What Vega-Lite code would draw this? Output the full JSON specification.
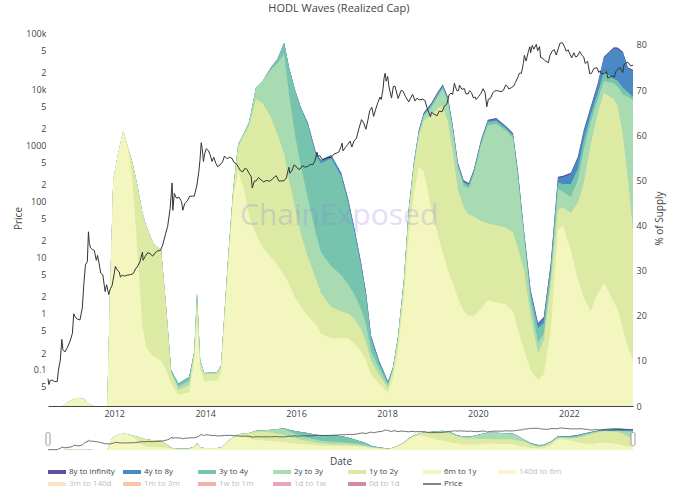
{
  "$schema": "https://vega.github.io/schema/vega-lite/v6.json",
  "background": "white",
  "padding": {"left": 13, "top": 3, "right": 5, "bottom": 0},
  "config": {
    "font": "Open Sans",
    "view": {"stroke": null},
    "axis": {"grid": false, "ticks": false, "labelColor": "#444", "titleColor": "#444", "titleFontWeight": "normal", "labelFontSize": 9, "titleFontSize": 10, "titleFont": "Open Sans", "labelFont": "Open Sans"}
  },
  "title": {"text": "HODL Waves (Realized Cap)", "fontSize": 11, "fontWeight": "normal", "color": "#444", "offset": 15, "anchor": "middle", "font": "Open Sans"},
  "datasets": {
    "waves": [
      {"d": "2010-07-18", "a": 0, "b": 0, "c": 0, "e": 0, "f": 0, "g": 0},
      {"d": "2010-11-16", "a": 0, "b": 0, "c": 0, "e": 0, "f": 0, "g": 0},
      {"d": "2011-01-03", "a": 1, "b": 1, "c": 1, "e": 1, "f": 1, "g": 1},
      {"d": "2011-02-28", "a": 1.8, "b": 1.8, "c": 1.8, "e": 1.8, "f": 1.8, "g": 1.8},
      {"d": "2011-04-27", "a": 1.6, "b": 1.6, "c": 1.6, "e": 1.6, "f": 1.6, "g": 1.6},
      {"d": "2011-06-13", "a": 0.5, "b": 0.5, "c": 0.5, "e": 0.5, "f": 0.5, "g": 0.5},
      {"d": "2011-07-16", "a": 0, "b": 0, "c": 0, "e": 0, "f": 0, "g": 0},
      {"d": "2011-11-06", "a": 0, "b": 0, "c": 0, "e": 0, "f": 0, "g": 0},
      {"d": "2011-11-28", "a": 25, "b": 25, "c": 25, "e": 25, "f": 25, "g": 25},
      {"d": "2011-12-24", "a": 50, "b": 50, "c": 50, "e": 50, "f": 50, "g": 50},
      {"d": "2012-02-02", "a": 56, "b": 56, "c": 56, "e": 56, "f": 56, "g": 56},
      {"d": "2012-03-14", "a": 61, "b": 61, "c": 61, "e": 61, "f": 61, "g": 61},
      {"d": "2012-04-23", "a": 57, "b": 57, "c": 57, "e": 57, "f": 57, "g": 57},
      {"d": "2012-05-26", "a": 50, "b": 54, "c": 54, "e": 54, "f": 54, "g": 54},
      {"d": "2012-07-04", "a": 35, "b": 49, "c": 49, "e": 49, "f": 49, "g": 49},
      {"d": "2012-08-13", "a": 18, "b": 43, "c": 43, "e": 43, "f": 43, "g": 43},
      {"d": "2012-09-13", "a": 13, "b": 40, "c": 40, "e": 40, "f": 40, "g": 40},
      {"d": "2012-11-10", "a": 11, "b": 36, "c": 36, "e": 36, "f": 36, "g": 36},
      {"d": "2013-01-12", "a": 10, "b": 34.5, "c": 34.5, "e": 34.5, "f": 34.5, "g": 34.5},
      {"d": "2013-02-21", "a": 8, "b": 22, "c": 22, "e": 22, "f": 22, "g": 22},
      {"d": "2013-04-02", "a": 5, "b": 7.3, "c": 7.7, "e": 8, "f": 8, "g": 8},
      {"d": "2013-05-30", "a": 2.5, "b": 3.6, "c": 4.3, "e": 5, "f": 5, "g": 5},
      {"d": "2013-08-25", "a": 3, "b": 4.6, "c": 5.6, "e": 6.4, "f": 6.4, "g": 6.4},
      {"d": "2013-10-05", "a": 10, "b": 11.5, "c": 12, "e": 12, "f": 12, "g": 12},
      {"d": "2013-10-27", "a": 19, "b": 24, "c": 25, "e": 25, "f": 25, "g": 25},
      {"d": "2013-11-22", "a": 8, "b": 9.6, "c": 10, "e": 10, "f": 10, "g": 10},
      {"d": "2013-12-24", "a": 5.5, "b": 7, "c": 7.3, "e": 7.3, "f": 7.3, "g": 7.3},
      {"d": "2014-04-06", "a": 5.7, "b": 7.2, "c": 7.5, "e": 7.5, "f": 7.5, "g": 7.5},
      {"d": "2014-05-08", "a": 7, "b": 8.6, "c": 9, "e": 9, "f": 9, "g": 9},
      {"d": "2014-07-02", "a": 30, "b": 31.5, "c": 32, "e": 32, "f": 32, "g": 32},
      {"d": "2014-08-14", "a": 46, "b": 47.5, "c": 48, "e": 48, "f": 48, "g": 48},
      {"d": "2014-09-23", "a": 52, "b": 57.5, "c": 58, "e": 58, "f": 58, "g": 58},
      {"d": "2014-11-09", "a": 48, "b": 60, "c": 60.5, "e": 60.5, "f": 60.5, "g": 60.5},
      {"d": "2014-12-20", "a": 42, "b": 62, "c": 63, "e": 63, "f": 63, "g": 63},
      {"d": "2015-02-13", "a": 38, "b": 68, "c": 70.5, "e": 70.5, "f": 70.5, "g": 70.5},
      {"d": "2015-04-09", "a": 35, "b": 67, "c": 72, "e": 72, "f": 72, "g": 72},
      {"d": "2015-06-13", "a": 33, "b": 64, "c": 74.5, "e": 75, "f": 75, "g": 75},
      {"d": "2015-08-07", "a": 31, "b": 60, "c": 76, "e": 77, "f": 77, "g": 77},
      {"d": "2015-09-27", "a": 29, "b": 56, "c": 78, "e": 80.5, "f": 80.5, "g": 80.5},
      {"d": "2015-11-06", "a": 27, "b": 50, "c": 69, "e": 75, "f": 75, "g": 75},
      {"d": "2015-12-24", "a": 24, "b": 44, "c": 60, "e": 70, "f": 70, "g": 70},
      {"d": "2016-02-10", "a": 22, "b": 38, "c": 53, "e": 65.8, "f": 66, "g": 66},
      {"d": "2016-04-05", "a": 20, "b": 33, "c": 46, "e": 62.3, "f": 62.7, "g": 62.7},
      {"d": "2016-06-10", "a": 18, "b": 28, "c": 38, "e": 55.4, "f": 56, "g": 56},
      {"d": "2016-07-20", "a": 16, "b": 25, "c": 34, "e": 53.8, "f": 54.5, "g": 54.5},
      {"d": "2016-10-08", "a": 15, "b": 22, "c": 31, "e": 54.9, "f": 55.6, "g": 55.6},
      {"d": "2016-12-28", "a": 15, "b": 21, "c": 29, "e": 51, "f": 51.7, "g": 51.7},
      {"d": "2017-02-21", "a": 15, "b": 20.5, "c": 27, "e": 45.2, "f": 46, "g": 46},
      {"d": "2017-04-09", "a": 14, "b": 19.5, "c": 25, "e": 39.2, "f": 40, "g": 40},
      {"d": "2017-06-07", "a": 12, "b": 17, "c": 21.5, "e": 30.9, "f": 31.7, "g": 31.7},
      {"d": "2017-07-17", "a": 10, "b": 14, "c": 18, "e": 24.3, "f": 25, "g": 25},
      {"d": "2017-08-26", "a": 7, "b": 10, "c": 12, "e": 14.9, "f": 15.5, "g": 15.5},
      {"d": "2017-10-27", "a": 5, "b": 7, "c": 8.5, "e": 9.7, "f": 10.2, "g": 10.2},
      {"d": "2018-01-08", "a": 3, "b": 4, "c": 4.6, "e": 5.2, "f": 5.4, "g": 5.5},
      {"d": "2018-02-17", "a": 6, "b": 7.8, "c": 8.2, "e": 8.4, "f": 8.5, "g": 8.6},
      {"d": "2018-03-29", "a": 12, "b": 14.4, "c": 14.9, "e": 15.1, "f": 15.2, "g": 15.3},
      {"d": "2018-05-16", "a": 24, "b": 26.8, "c": 27.5, "e": 27.8, "f": 27.9, "g": 28},
      {"d": "2018-06-25", "a": 38, "b": 42.8, "c": 43.5, "e": 43.7, "f": 43.9, "g": 44},
      {"d": "2018-08-04", "a": 47, "b": 52.8, "c": 53.4, "e": 53.7, "f": 53.9, "g": 54},
      {"d": "2018-09-13", "a": 53, "b": 59.6, "c": 60.5, "e": 60.8, "f": 61, "g": 61.2},
      {"d": "2018-10-23", "a": 52, "b": 63.2, "c": 64.2, "e": 64.6, "f": 64.8, "g": 65},
      {"d": "2018-12-20", "a": 44, "b": 64.5, "c": 66, "e": 66.5, "f": 66.8, "g": 67},
      {"d": "2019-02-13", "a": 38, "b": 66, "c": 68.5, "e": 69.1, "f": 69.4, "g": 69.6},
      {"d": "2019-03-25", "a": 34, "b": 66.5, "c": 70.2, "e": 70.7, "f": 71, "g": 71.2},
      {"d": "2019-05-05", "a": 30, "b": 63, "c": 67.3, "e": 68, "f": 68.3, "g": 68.5},
      {"d": "2019-06-14", "a": 27, "b": 56, "c": 60.8, "e": 61.5, "f": 61.8, "g": 62},
      {"d": "2019-07-24", "a": 24, "b": 48, "c": 52.8, "e": 53.5, "f": 53.8, "g": 54},
      {"d": "2019-09-09", "a": 21, "b": 44, "c": 48.8, "e": 49.5, "f": 49.8, "g": 50},
      {"d": "2019-10-19", "a": 20, "b": 42.5, "c": 48.2, "e": 48.9, "f": 49.2, "g": 49.4},
      {"d": "2019-11-28", "a": 20, "b": 42, "c": 51.1, "e": 51.8, "f": 52.1, "g": 52.3},
      {"d": "2020-01-26", "a": 21.5, "b": 41, "c": 57.8, "e": 58.5, "f": 58.8, "g": 59},
      {"d": "2020-03-21", "a": 23.5, "b": 40.5, "c": 62.2, "e": 62.9, "f": 63.2, "g": 63.4},
      {"d": "2020-05-27", "a": 23, "b": 40, "c": 62.5, "e": 63.2, "f": 63.6, "g": 63.8},
      {"d": "2020-08-15", "a": 22.5, "b": 39.5, "c": 61, "e": 61.5, "f": 61.8, "g": 62},
      {"d": "2020-10-09", "a": 21, "b": 38.5, "c": 59.3, "e": 59.9, "f": 60.2, "g": 60.5},
      {"d": "2020-11-18", "a": 17, "b": 35, "c": 50.5, "e": 51.3, "f": 51.7, "g": 52},
      {"d": "2021-01-05", "a": 12.4, "b": 30, "c": 37.5, "e": 38.3, "f": 38.7, "g": 39},
      {"d": "2021-02-28", "a": 8, "b": 20, "c": 23, "e": 24.8, "f": 25.4, "g": 25.7},
      {"d": "2021-04-28", "a": 5.8, "b": 11.7, "c": 14, "e": 17.2, "f": 18.1, "g": 18.4},
      {"d": "2021-06-13", "a": 7, "b": 14.5, "c": 16, "e": 18.4, "f": 19.4, "g": 19.7},
      {"d": "2021-08-08", "a": 16.8, "b": 27, "c": 28.5, "e": 30.3, "f": 31.4, "g": 31.7},
      {"d": "2021-10-05", "a": 39, "b": 43.5, "c": 48, "e": 49.5, "f": 50.5, "g": 50.8},
      {"d": "2021-11-14", "a": 40, "b": 44, "c": 47.5, "e": 49.2, "f": 50.7, "g": 51},
      {"d": "2022-01-16", "a": 34.6, "b": 42.8, "c": 46.3, "e": 49.2, "f": 51.4, "g": 51.7},
      {"d": "2022-03-14", "a": 28, "b": 45, "c": 50, "e": 52.5, "f": 54.9, "g": 55.2},
      {"d": "2022-05-01", "a": 24, "b": 49.4, "c": 56.8, "e": 59, "f": 60.9, "g": 61.2},
      {"d": "2022-06-25", "a": 21, "b": 58, "c": 63, "e": 64.5, "f": 66, "g": 66.3},
      {"d": "2022-08-22", "a": 25, "b": 65, "c": 68, "e": 69.5, "f": 71.3, "g": 71.6},
      {"d": "2022-10-09", "a": 27.3, "b": 69.4, "c": 72, "e": 74, "f": 77.1, "g": 77.4},
      {"d": "2022-12-28", "a": 23, "b": 68, "c": 71.5, "e": 72.5, "f": 79.2, "g": 79.5},
      {"d": "2023-01-29", "a": 21.3, "b": 66.3, "c": 70.7, "e": 72, "f": 79.1, "g": 79.4},
      {"d": "2023-03-11", "a": 17, "b": 60, "c": 69, "e": 70.5, "f": 78.2, "g": 78.5},
      {"d": "2023-04-21", "a": 13, "b": 50, "c": 68.5, "e": 69.5, "f": 74.7, "g": 75},
      {"d": "2023-05-31", "a": 10.2, "b": 39, "c": 67.8, "e": 68.5, "f": 74.2, "g": 74.5}
    ],
    "price": [
      {"d": "2010-07-18", "p": 0.07}, {"d": "2010-07-25", "p": 0.055}, {"d": "2010-08-05", "p": 0.065}, {"d": "2010-08-20", "p": 0.066},
      {"d": "2010-09-10", "p": 0.062}, {"d": "2010-09-30", "p": 0.062}, {"d": "2010-10-10", "p": 0.1}, {"d": "2010-10-25", "p": 0.15},
      {"d": "2010-11-06", "p": 0.35}, {"d": "2010-11-15", "p": 0.23}, {"d": "2010-12-01", "p": 0.21}, {"d": "2010-12-20", "p": 0.25},
      {"d": "2011-01-10", "p": 0.32}, {"d": "2011-01-30", "p": 0.45}, {"d": "2011-02-10", "p": 1.0}, {"d": "2011-02-25", "p": 0.85},
      {"d": "2011-03-15", "p": 0.8}, {"d": "2011-04-01", "p": 0.78}, {"d": "2011-04-20", "p": 1.3}, {"d": "2011-05-01", "p": 3.2},
      {"d": "2011-05-15", "p": 7.5}, {"d": "2011-05-30", "p": 8.5}, {"d": "2011-06-08", "p": 29}, {"d": "2011-06-15", "p": 18},
      {"d": "2011-06-25", "p": 15}, {"d": "2011-07-10", "p": 14}, {"d": "2011-07-25", "p": 13.5}, {"d": "2011-08-10", "p": 9},
      {"d": "2011-08-20", "p": 11}, {"d": "2011-09-01", "p": 8}, {"d": "2011-09-15", "p": 5.3}, {"d": "2011-10-01", "p": 5},
      {"d": "2011-10-20", "p": 2.5}, {"d": "2011-11-01", "p": 3.3}, {"d": "2011-11-18", "p": 2.2}, {"d": "2011-12-01", "p": 2.8},
      {"d": "2011-12-15", "p": 3.2}, {"d": "2012-01-01", "p": 5.2}, {"d": "2012-01-10", "p": 7}, {"d": "2012-01-25", "p": 6},
      {"d": "2012-02-10", "p": 5.6}, {"d": "2012-02-20", "p": 4.5}, {"d": "2012-03-05", "p": 4.9}, {"d": "2012-03-25", "p": 4.7},
      {"d": "2012-04-15", "p": 4.9}, {"d": "2012-05-10", "p": 5.0}, {"d": "2012-06-01", "p": 5.2}, {"d": "2012-06-20", "p": 6.3},
      {"d": "2012-07-10", "p": 7.2}, {"d": "2012-07-25", "p": 8.5}, {"d": "2012-08-15", "p": 12.5}, {"d": "2012-08-20", "p": 9},
      {"d": "2012-09-05", "p": 10.5}, {"d": "2012-09-25", "p": 12.3}, {"d": "2012-10-15", "p": 11.8}, {"d": "2012-11-05", "p": 10.7},
      {"d": "2012-11-25", "p": 12.2}, {"d": "2012-12-15", "p": 13.3}, {"d": "2013-01-05", "p": 13.4}, {"d": "2013-01-25", "p": 17},
      {"d": "2013-02-15", "p": 26}, {"d": "2013-03-05", "p": 36}, {"d": "2013-03-25", "p": 75}, {"d": "2013-04-10", "p": 215},
      {"d": "2013-04-16", "p": 70}, {"d": "2013-04-28", "p": 140}, {"d": "2013-05-15", "p": 115}, {"d": "2013-06-05", "p": 120},
      {"d": "2013-06-25", "p": 100}, {"d": "2013-07-05", "p": 70}, {"d": "2013-07-20", "p": 92}, {"d": "2013-08-10", "p": 103},
      {"d": "2013-08-30", "p": 125}, {"d": "2013-09-20", "p": 125}, {"d": "2013-10-05", "p": 125}, {"d": "2013-10-25", "p": 190},
      {"d": "2013-11-10", "p": 330}, {"d": "2013-11-20", "p": 550}, {"d": "2013-11-30", "p": 1120}, {"d": "2013-12-08", "p": 880},
      {"d": "2013-12-18", "p": 520}, {"d": "2013-12-28", "p": 720}, {"d": "2014-01-10", "p": 880}, {"d": "2014-01-28", "p": 800},
      {"d": "2014-02-10", "p": 680}, {"d": "2014-02-25", "p": 520}, {"d": "2014-03-10", "p": 620}, {"d": "2014-03-28", "p": 480},
      {"d": "2014-04-10", "p": 420}, {"d": "2014-04-30", "p": 450}, {"d": "2014-05-20", "p": 510}, {"d": "2014-06-05", "p": 650},
      {"d": "2014-06-25", "p": 580}, {"d": "2014-07-15", "p": 620}, {"d": "2014-08-05", "p": 590}, {"d": "2014-08-20", "p": 500},
      {"d": "2014-09-10", "p": 470}, {"d": "2014-09-25", "p": 410}, {"d": "2014-10-10", "p": 360}, {"d": "2014-10-30", "p": 340},
      {"d": "2014-11-15", "p": 390}, {"d": "2014-12-01", "p": 380}, {"d": "2014-12-20", "p": 320}, {"d": "2015-01-05", "p": 280},
      {"d": "2015-01-14", "p": 175}, {"d": "2015-01-30", "p": 230}, {"d": "2015-02-15", "p": 235}, {"d": "2015-03-05", "p": 270},
      {"d": "2015-03-25", "p": 245}, {"d": "2015-04-15", "p": 225}, {"d": "2015-05-10", "p": 240}, {"d": "2015-05-30", "p": 230},
      {"d": "2015-06-20", "p": 245}, {"d": "2015-07-10", "p": 275}, {"d": "2015-07-25", "p": 290}, {"d": "2015-08-18", "p": 230},
      {"d": "2015-09-05", "p": 235}, {"d": "2015-09-25", "p": 235}, {"d": "2015-10-15", "p": 265}, {"d": "2015-11-04", "p": 410},
      {"d": "2015-11-12", "p": 320}, {"d": "2015-11-28", "p": 355}, {"d": "2015-12-15", "p": 450}, {"d": "2015-12-30", "p": 430},
      {"d": "2016-01-15", "p": 385}, {"d": "2016-02-01", "p": 375}, {"d": "2016-02-20", "p": 440}, {"d": "2016-03-10", "p": 415},
      {"d": "2016-04-01", "p": 420}, {"d": "2016-04-25", "p": 460}, {"d": "2016-05-15", "p": 455}, {"d": "2016-06-01", "p": 535},
      {"d": "2016-06-17", "p": 760}, {"d": "2016-06-25", "p": 640}, {"d": "2016-07-10", "p": 660}, {"d": "2016-08-01", "p": 560},
      {"d": "2016-08-20", "p": 580}, {"d": "2016-09-15", "p": 610}, {"d": "2016-10-10", "p": 615}, {"d": "2016-10-30", "p": 700},
      {"d": "2016-11-20", "p": 730}, {"d": "2016-12-10", "p": 770}, {"d": "2016-12-28", "p": 960}, {"d": "2017-01-05", "p": 1100},
      {"d": "2017-01-12", "p": 800}, {"d": "2017-01-30", "p": 920}, {"d": "2017-02-20", "p": 1050}, {"d": "2017-03-10", "p": 1200},
      {"d": "2017-03-24", "p": 940}, {"d": "2017-04-10", "p": 1200}, {"d": "2017-04-30", "p": 1350}, {"d": "2017-05-20", "p": 2000},
      {"d": "2017-06-10", "p": 2900}, {"d": "2017-06-28", "p": 2500}, {"d": "2017-07-15", "p": 1950}, {"d": "2017-07-30", "p": 2750},
      {"d": "2017-08-15", "p": 4200}, {"d": "2017-09-01", "p": 4800}, {"d": "2017-09-15", "p": 3300}, {"d": "2017-09-30", "p": 4300},
      {"d": "2017-10-20", "p": 5900}, {"d": "2017-11-05", "p": 7300}, {"d": "2017-11-15", "p": 6600}, {"d": "2017-11-29", "p": 9900},
      {"d": "2017-12-08", "p": 16000}, {"d": "2017-12-17", "p": 19400}, {"d": "2017-12-25", "p": 14000}, {"d": "2018-01-06", "p": 17000},
      {"d": "2018-01-17", "p": 11000}, {"d": "2018-02-06", "p": 7000}, {"d": "2018-02-20", "p": 11200}, {"d": "2018-03-05", "p": 11500},
      {"d": "2018-03-31", "p": 6900}, {"d": "2018-04-24", "p": 9600}, {"d": "2018-05-10", "p": 9300}, {"d": "2018-05-30", "p": 7400},
      {"d": "2018-06-24", "p": 6000}, {"d": "2018-07-25", "p": 8200}, {"d": "2018-08-14", "p": 6200}, {"d": "2018-08-30", "p": 7000},
      {"d": "2018-09-15", "p": 6500}, {"d": "2018-10-15", "p": 6700}, {"d": "2018-11-01", "p": 6350}, {"d": "2018-11-20", "p": 4600},
      {"d": "2018-12-15", "p": 3250}, {"d": "2018-12-25", "p": 3900}, {"d": "2019-01-15", "p": 3600}, {"d": "2019-02-07", "p": 3400},
      {"d": "2019-02-24", "p": 4100}, {"d": "2019-03-20", "p": 4000}, {"d": "2019-04-05", "p": 5000}, {"d": "2019-04-25", "p": 5400},
      {"d": "2019-05-15", "p": 8000}, {"d": "2019-05-30", "p": 8600}, {"d": "2019-06-12", "p": 8100}, {"d": "2019-06-26", "p": 12900},
      {"d": "2019-07-05", "p": 11000}, {"d": "2019-07-16", "p": 9500}, {"d": "2019-07-30", "p": 9500}, {"d": "2019-08-06", "p": 11900},
      {"d": "2019-08-25", "p": 10100}, {"d": "2019-09-15", "p": 10300}, {"d": "2019-09-25", "p": 8400}, {"d": "2019-10-15", "p": 8300},
      {"d": "2019-10-26", "p": 9500}, {"d": "2019-11-10", "p": 8800}, {"d": "2019-11-25", "p": 7100}, {"d": "2019-12-10", "p": 7300},
      {"d": "2019-12-18", "p": 6600}, {"d": "2020-01-05", "p": 7400}, {"d": "2020-01-25", "p": 8500}, {"d": "2020-02-12", "p": 10300},
      {"d": "2020-02-28", "p": 8700}, {"d": "2020-03-12", "p": 4900}, {"d": "2020-03-25", "p": 6700}, {"d": "2020-04-10", "p": 6900},
      {"d": "2020-04-30", "p": 8700}, {"d": "2020-05-15", "p": 9400}, {"d": "2020-05-31", "p": 9500}, {"d": "2020-06-15", "p": 9400},
      {"d": "2020-07-05", "p": 9100}, {"d": "2020-07-25", "p": 9700}, {"d": "2020-08-10", "p": 11900}, {"d": "2020-08-25", "p": 11400},
      {"d": "2020-09-05", "p": 10200}, {"d": "2020-09-25", "p": 10700}, {"d": "2020-10-15", "p": 11500}, {"d": "2020-10-28", "p": 13300},
      {"d": "2020-11-15", "p": 16000}, {"d": "2020-11-30", "p": 19500}, {"d": "2020-12-15", "p": 19400}, {"d": "2020-12-31", "p": 29000},
      {"d": "2021-01-08", "p": 40500}, {"d": "2021-01-22", "p": 32000}, {"d": "2021-02-08", "p": 46000}, {"d": "2021-02-21", "p": 57500},
      {"d": "2021-02-28", "p": 45000}, {"d": "2021-03-13", "p": 61000}, {"d": "2021-03-25", "p": 52000}, {"d": "2021-04-14", "p": 63500},
      {"d": "2021-04-25", "p": 49000}, {"d": "2021-05-10", "p": 58000}, {"d": "2021-05-19", "p": 37000}, {"d": "2021-06-01", "p": 36500},
      {"d": "2021-06-22", "p": 32500}, {"d": "2021-07-20", "p": 29800}, {"d": "2021-08-01", "p": 40000}, {"d": "2021-08-22", "p": 49000},
      {"d": "2021-09-06", "p": 51000}, {"d": "2021-09-21", "p": 41000}, {"d": "2021-10-10", "p": 55000}, {"d": "2021-10-20", "p": 66000},
      {"d": "2021-11-10", "p": 68000}, {"d": "2021-11-28", "p": 57000}, {"d": "2021-12-10", "p": 48000}, {"d": "2021-12-27", "p": 50500},
      {"d": "2022-01-10", "p": 42000}, {"d": "2022-01-24", "p": 36500}, {"d": "2022-02-10", "p": 45000}, {"d": "2022-02-24", "p": 38000},
      {"d": "2022-03-10", "p": 39000}, {"d": "2022-03-29", "p": 47500}, {"d": "2022-04-15", "p": 40500}, {"d": "2022-04-30", "p": 38000},
      {"d": "2022-05-12", "p": 29000}, {"d": "2022-05-31", "p": 31800}, {"d": "2022-06-18", "p": 19000}, {"d": "2022-07-01", "p": 19300},
      {"d": "2022-07-20", "p": 23500}, {"d": "2022-08-14", "p": 24400}, {"d": "2022-08-30", "p": 20000}, {"d": "2022-09-10", "p": 21500},
      {"d": "2022-09-20", "p": 19000}, {"d": "2022-10-10", "p": 19100}, {"d": "2022-10-30", "p": 20700}, {"d": "2022-11-09", "p": 16000},
      {"d": "2022-11-25", "p": 16500}, {"d": "2022-12-15", "p": 17400}, {"d": "2022-12-31", "p": 16550}, {"d": "2023-01-14", "p": 20900},
      {"d": "2023-01-31", "p": 23100}, {"d": "2023-02-16", "p": 24500}, {"d": "2023-03-10", "p": 20000}, {"d": "2023-03-20", "p": 28000},
      {"d": "2023-04-14", "p": 30500}, {"d": "2023-04-28", "p": 29300}, {"d": "2023-05-12", "p": 26300}, {"d": "2023-05-31", "p": 27000}
    ],
    "mark": [{"d": "2016-12-12", "v": 42, "s": "ChainExposed"}],
    "ends": [{"d": "2010-07-18"}, {"d": "2023-05-31"}]
  },
  "vconcat": [
    {
      "width": 585,
      "height": 376,
      "layer": [
        {
          "data": {"name": "waves"},
          "transform": [{"fold": ["g", "f", "e", "c", "b", "a"], "as": ["k", "v"]}],
          "mark": {"type": "area", "interpolate": "linear"},
          "encoding": {
            "x": {
              "field": "d", "type": "temporal",
              "scale": {"domain": ["2010-07-18", "2023-05-31"], "nice": false},
              "axis": {"title": null, "format": "%Y", "tickCount": {"interval": "year", "step": 2}, "domain": true, "domainColor": "#444", "labelPadding": 3, "labelFlush": false}
            },
            "y": {
              "field": "v", "type": "quantitative", "stack": null,
              "scale": {"domain": [0, 83.3], "nice": false, "zero": true},
              "axis": {"orient": "right", "title": "% of Supply", "values": [0, 10, 20, 30, 40, 50, 60, 70, 80], "domain": false, "labelPadding": 3, "titlePadding": 8, "titleAngle": 270, "titleBaseline": "top"}
            },
            "color": {
              "field": "k", "type": "nominal",
              "scale": {
                "domain": ["g", "f", "e", "c", "b", "a", "h", "i", "j", "k", "l", "m", "p"],
                "range": ["#5e4fa2", "#4a8ac4", "#76c4ad", "#a8dbb2", "#dceaa4", "#f3f7bf", "#fdf2cf", "#fde2c6", "#fbc6a8", "#f4b1aa", "#eca4bb", "#d28aab", "#333333"]
              },
              "legend": {
                "orient": "bottom", "direction": "horizontal", "columns": 7, "title": null,
                "symbolType": "stroke", "symbolSize": 324, "symbolStrokeWidth": 4,
                "labelFontSize": 8, "labelColor": "#444", "labelFont": "Open Sans",
                "gridAlign": "all", "columnPadding": 0, "rowPadding": -5, "offset": -3, "padding": 5, "labelOffset": 8,
                "labelExpr": "datum.value == 'g' ? '8y to infinity' : datum.value == 'f' ? '4y to 8y' : datum.value == 'e' ? '3y to 4y' : datum.value == 'c' ? '2y to 3y' : datum.value == 'b' ? '1y to 2y' : datum.value == 'a' ? '6m to 1y' : datum.value == 'h' ? '140d to 6m' : datum.value == 'i' ? '3m to 140d' : datum.value == 'j' ? '1m to 3m' : datum.value == 'k' ? '1w to 1m' : datum.value == 'l' ? '1d to 1w' : datum.value == 'm' ? '0d to 1d' : 'Price'",
                "encode": {
                  "symbols": {"update": {"stroke": {"scale": "color", "field": "value"}, "strokeWidth": {"signal": "datum.value == 'p' ? 1.2 : 4"}, "opacity": {"value": 1}}},
                  "labels": {"update": {"fill": {"signal": "indexof(['h','i','j','k','l','m'], datum.value) >= 0 ? '#bdbdbd' : '#444'"}}}
                }
              }
            }
          }
        },
        {
          "data": {"name": "mark"},
          "mark": {"type": "text", "fontSize": 30, "font": "Open Sans", "color": "#8a7fdc", "opacity": 0.25},
          "encoding": {
            "x": {"field": "d", "type": "temporal"},
            "y": {"field": "v", "type": "quantitative", "scale": {"domain": [0, 83.3], "nice": false}, "axis": null},
            "text": {"field": "s"}
          }
        },
        {
          "data": {"name": "price"},
          "mark": {"type": "line", "strokeWidth": 1, "interpolate": "linear"},
          "encoding": {
            "x": {"field": "d", "type": "temporal"},
            "y": {
              "field": "p", "type": "quantitative",
              "scale": {"type": "log", "domain": [0.0228, 114500], "nice": false},
              "axis": {
                "orient": "left", "title": "Price", "domain": false, "labelPadding": 2, "titlePadding": 2,
                "values": [0.05, 0.1, 0.2, 0.5, 1, 2, 5, 10, 20, 50, 100, 200, 500, 1000, 2000, 5000, 10000, 20000, 50000, 100000],
                "labelExpr": "datum.value >= 100000 ? '100k' : datum.value == 10000 ? '10k' : (datum.value == 0.1 || datum.value == 1 || datum.value == 10 || datum.value == 100 || datum.value == 1000) ? format(datum.value, '') : format(datum.value / pow(10, floor(log(datum.value) / LN10 + 0.000001)), '.0f')"
              }
            },
            "color": {"datum": "p"}
          }
        }
      ],
      "resolve": {"scale": {"y": "independent"}, "axis": {"y": "independent"}}
    },
    {
      "width": 585,
      "height": 22,
      "layer": [
        {
          "data": {"name": "waves"},
          "transform": [{"fold": ["g", "f", "e", "c", "b", "a"], "as": ["k", "v"]}],
          "mark": {"type": "area", "interpolate": "linear"},
          "encoding": {
            "x": {
              "field": "d", "type": "temporal",
              "scale": {"domain": ["2010-07-18", "2023-05-31"], "nice": false},
              "axis": {"title": "Date", "labels": false, "domain": false, "ticks": false, "titlePadding": 6}
            },
            "y": {"field": "v", "type": "quantitative", "stack": null, "scale": {"domain": [0, 81], "nice": false}, "axis": null},
            "color": {"field": "k", "type": "nominal"}
          }
        },
        {
          "data": {"name": "price"},
          "mark": {"type": "line", "strokeWidth": 0.7},
          "encoding": {
            "x": {"field": "d", "type": "temporal"},
            "y": {"field": "p", "type": "quantitative", "scale": {"type": "log", "domain": [0.05, 70000], "nice": false}, "axis": null},
            "color": {"datum": "p"}
          }
        },
        {
          "data": {"name": "ends"},
          "mark": {"type": "tick", "orient": "vertical", "size": 13, "thickness": 4, "fill": "white", "stroke": "#999", "strokeWidth": 1, "cornerRadius": 1.5, "opacity": 1},
          "encoding": {"x": {"field": "d", "type": "temporal"}}
        }
      ],
      "resolve": {"scale": {"y": "independent"}}
    }
  ],
  "spacing": 8
}
